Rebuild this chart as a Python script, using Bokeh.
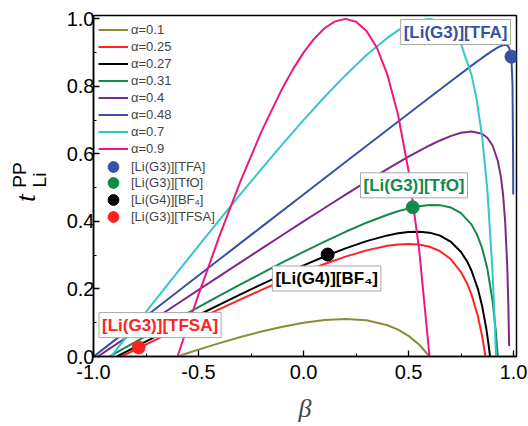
import math
from bokeh.plotting import figure
from bokeh.layouts import row
from bokeh.models import (Range1d, Label, Legend, LegendItem,
                          SingleIntervalTicker, PrintfTickFormatter)
from bokeh.embed import file_html
from bokeh.resources import INLINE

# ---- data ----
alpha_labels = ["α=0.1", "α=0.25", "α=0.27", "α=0.31", "α=0.4", "α=0.48", "α=0.7", "α=0.9"]

beta_a010 = [-0.6, -0.55, -0.5, -0.4, -0.3, -0.2, -0.1, 0.0, 0.1, 0.2, 0.3, 0.4, 0.45, 0.5, 0.55, 0.6]
t_a010 = [0, 0.0103, 0.0204, 0.0397, 0.0577, 0.0741, 0.0884, 0.1, 0.108, 0.1111, 0.1071, 0.0926, 0.0795, 0.0611, 0.0355, 0]

beta_a025 = [-0.866, -0.8, -0.7, -0.6, -0.5, -0.4, -0.3, -0.2, -0.1, 0.0, 0.1, 0.2, 0.3, 0.4, 0.45, 0.5, 0.55,
             0.6, 0.65, 0.7, 0.75, 0.78, 0.8, 0.83, 0.85, 0.86, 0.866]
t_a025 = [0, 0.0204, 0.051, 0.0813, 0.1111, 0.1405, 0.1692, 0.1972, 0.2242, 0.25, 0.2741, 0.2958, 0.3143, 0.3278,
          0.3318, 0.3333, 0.3315, 0.325, 0.3119, 0.2889, 0.25, 0.2145, 0.1833, 0.1198, 0.0611, 0.0248, 0]

beta_a027 = [-0.888, -0.8, -0.7, -0.6, -0.5, -0.4, -0.3, -0.2, -0.1, 0.0, 0.1, 0.2, 0.3, 0.4, 0.45, 0.5, 0.55,
             0.6, 0.65, 0.7, 0.75, 0.78, 0.8, 0.83, 0.85, 0.87, 0.88, 0.888]
t_a027 = [0, 0.0282, 0.0601, 0.0917, 0.1229, 0.1537, 0.184, 0.2136, 0.2423, 0.27, 0.2962, 0.3204, 0.3417, 0.3587,
          0.3648, 0.3688, 0.3698, 0.3668, 0.358, 0.3406, 0.3095, 0.2802, 0.2541, 0.2004, 0.1505, 0.083, 0.04, 0]

beta_a031 = [-0.925, -0.9, -0.8, -0.7, -0.6, -0.5, -0.4, -0.3, -0.2, -0.1, 0.0, 0.1, 0.2, 0.3, 0.4, 0.45, 0.5,
             0.55, 0.6, 0.65, 0.7, 0.75, 0.8, 0.825, 0.85, 0.875, 0.9, 0.915, 0.925]
t_a031 = [0, 0.0087, 0.0434, 0.0779, 0.1122, 0.1463, 0.18, 0.2134, 0.2463, 0.2785, 0.31, 0.3404, 0.3694, 0.3963,
          0.42, 0.4302, 0.4388, 0.4453, 0.4489, 0.4483, 0.4415, 0.4248, 0.3906, 0.3623, 0.3215, 0.2608, 0.1652,
          0.0783, 0]

beta_a040 = [-0.979, -0.9, -0.8, -0.7, -0.6, -0.5, -0.4, -0.3, -0.2, -0.1, 0.0, 0.1, 0.2, 0.3, 0.4, 0.5, 0.6,
             0.65, 0.7, 0.75, 0.8, 0.85, 0.875, 0.9, 0.925, 0.94, 0.95, 0.96, 0.97, 0.975, 0.979]
t_a040 = [0, 0.0329, 0.0741, 0.1152, 0.1563, 0.1972, 0.2381, 0.2788, 0.3194, 0.3598, 0.4, 0.4398, 0.4792, 0.5179,
          0.5556, 0.5917, 0.625, 0.6399, 0.6528, 0.6625, 0.6667, 0.6597, 0.6479, 0.625, 0.5799, 0.5306, 0.4792,
          0.4, 0.2653, 0.1563, 0.031]

beta_a048 = [-0.999, -0.9, -0.8, -0.6, -0.4, -0.2, 0.0, 0.2, 0.4, 0.6, 0.7, 0.8, 0.85, 0.9, 0.93, 0.95, 0.96,
             0.97, 0.98, 0.99, 0.995, 0.998, 0.9984]
t_a048 = [0, 0.0477, 0.0957, 0.1918, 0.2879, 0.384, 0.48, 0.576, 0.6718, 0.7673, 0.8147, 0.8615, 0.8843, 0.9058,
          0.9169, 0.9221, 0.9231, 0.9215, 0.9135, 0.8798, 0.8053, 0.576, 0.48]

beta_a070 = [-0.9165, -0.9, -0.8, -0.7, -0.6, -0.5, -0.4, -0.3, -0.2, -0.1, 0.0, 0.1, 0.2, 0.3, 0.4, 0.45, 0.5,
             0.55, 0.6, 0.65, 0.7, 0.75, 0.8, 0.825, 0.85, 0.875, 0.9, 0.91, 0.9165]
t_a070 = [0, 0.0132, 0.0926, 0.1716, 0.25, 0.3278, 0.4048, 0.4808, 0.5556, 0.6288, 0.7, 0.7685, 0.8333, 0.8929,
          0.9444, 0.9659, 0.9833, 0.9954, 1.0, 0.994, 0.9722, 0.925, 0.8333, 0.7589, 0.6528, 0.4958, 0.25,
          0.1102, 0]

beta_a090 = [-0.6, -0.55, -0.5, -0.4, -0.3, -0.2, -0.1, -0.05, 0.0, 0.05, 0.1, 0.15, 0.2, 0.25, 0.3, 0.35, 0.4,
             0.45, 0.5, 0.55, 0.6]
t_a090 = [0, 0.0927, 0.1833, 0.3571, 0.5192, 0.6667, 0.7955, 0.8512, 0.9, 0.9408, 0.9722, 0.9926, 1.0, 0.9917,
          0.9643, 0.9135, 0.8333, 0.7159, 0.55, 0.3194, 0]

salt_labels = ["[Li(G3)][TFA]", "[Li(G3)][TfO]", "[Li(G4)][BF₄]", "[Li(G3)][TFSA]"]
salt_beta = [0.99, 0.52, 0.115, -0.785]
salt_t = [0.888, 0.442, 0.302, 0.027]

# ---- styles ----
line_colors = ["#8C8C35", "#FF2222", "#000000", "#12894A", "#7B2A8C", "#3752A3", "#36C6C9", "#F0167F"]
salt_colors = ["#3752A3", "#12894A", "#000000", "#FF2222"]
SANS = "Liberation Sans"
SERIF = "Liberation Serif"

W_LEFT = 56
H = 426
TOP, BOTTOM = 15, 70   # borders of the main plot; the row aligns both frames to them

# narrow strip that carries the rotated y-axis title  t^PP_Li
# (its frame spans the same vertical extent as the main frame; y range = page pixels from the bottom)
pl = figure(width=W_LEFT, height=H, x_range=Range1d(0, W_LEFT), y_range=Range1d(BOTTOM, H - TOP),
            output_backend="svg", toolbar_location=None, x_axis_location=None, y_axis_location=None,
            min_border_left=0, min_border_right=0, min_border_top=TOP, min_border_bottom=BOTTOM)
pl.outline_line_color = None
pl.grid.visible = False
pl.add_layout(Label(x=24.5, y=228.5, text="t", angle=math.pi / 2,
                    text_align="center", text_baseline="middle", text_font=SERIF,
                    text_font_style="italic", text_font_size="28px", text_color="black"))
pl.add_layout(Label(x=19, y=251.5, text="PP", angle=math.pi / 2,
                    text_align="center", text_baseline="middle", text_font=SANS,
                    text_font_size="19px", text_color="black"))
pl.add_layout(Label(x=39, y=246.5, text="Li", angle=math.pi / 2,
                    text_align="center", text_baseline="middle", text_font=SANS,
                    text_font_size="19px", text_color="black"))

p = figure(width=528 - W_LEFT, height=H, x_range=Range1d(-1.0, 1.014), y_range=Range1d(0.0, 1.01),
           output_backend="svg", toolbar_location=None,
           min_border_left=93 - W_LEFT, min_border_right=12, min_border_top=TOP, min_border_bottom=BOTTOM)
p.xgrid.visible = False
p.ygrid.visible = False
p.outline_line_color = "black"
p.outline_line_width = 1.5
p.outline_line_alpha = 1.0

for ax in (p.xaxis[0], p.yaxis[0]):
    ax.axis_line_width = 1.5
    ax.major_tick_in = 6
    ax.major_tick_out = 0
    ax.minor_tick_in = 3
    ax.minor_tick_out = 0
    ax.major_tick_line_width = 1.3
    ax.minor_tick_line_width = 1.0
    ax.major_label_text_font = SANS
    ax.major_label_text_font_size = "20px"
    ax.major_label_text_color = "black"
    ax.formatter = PrintfTickFormatter(format="%.1f")

p.xaxis.major_label_standoff = 8
p.yaxis.major_label_standoff = -1
p.xaxis.ticker = SingleIntervalTicker(interval=0.5, num_minor_ticks=2)
p.yaxis.ticker = SingleIntervalTicker(interval=0.2, num_minor_ticks=2)
p.xaxis.axis_label = "β"
p.xaxis.axis_label_text_font = SERIF
p.xaxis.axis_label_text_font_style = "italic"
p.xaxis.axis_label_text_font_size = "26px"
p.xaxis.axis_label_standoff = 12

series = [(beta_a010, t_a010), (beta_a025, t_a025), (beta_a027, t_a027), (beta_a031, t_a031),
          (beta_a040, t_a040), (beta_a048, t_a048), (beta_a070, t_a070), (beta_a090, t_a090)]
line_items = []
for (bx, ty), col, lab in zip(series, line_colors, alpha_labels):
    r = p.line(bx, ty, line_color=col, line_width=2, line_join="round")
    line_items.append(LegendItem(label=lab, renderers=[r]))

leg1 = Legend(items=line_items, location=(5, 199.5), margin=0, padding=0, spacing=0,
              glyph_width=30, glyph_height=17, label_height=17, label_standoff=3,
              label_text_font=SANS, label_text_font_size="13px",
              background_fill_alpha=0, border_line_color=None)
p.add_layout(leg1)

# one small legend per salt so that the circles can be large while rows stay close
salt_leg_bottom = [176.5, 160.5, 143.5, 126.5]
for i in range(len(salt_labels)):
    r = p.scatter([salt_beta[i]], [salt_t[i]], size=13, marker="circle",
                  fill_color=salt_colors[i], line_color=salt_colors[i])
    lg = Legend(items=[LegendItem(label=salt_labels[i], renderers=[r])],
                location=(5, salt_leg_bottom[i]), margin=0, padding=0, spacing=0,
                glyph_width=30, glyph_height=27, label_height=17, label_standoff=3,
                label_text_font=SANS, label_text_font_size="13px",
                background_fill_alpha=0, border_line_color=None)
    p.add_layout(lg)

# annotation boxes
box_pos = [(0.724, 0.961), (0.526, 0.507), (0.110, 0.231), (-0.683, 0.093)]
for (bx, by), txt, col in zip(box_pos, salt_labels, salt_colors):
    p.add_layout(Label(x=bx, y=by, text=txt, text_align="center", text_baseline="middle",
                       text_font=SANS, text_font_style="bold", text_font_size="17px",
                       text_color=col, background_fill_color="white",
                       border_line_color="#A8A8A8", border_line_width=1, padding=3))

layout = row(pl, p)
open("out.html", "w").write(file_html(layout, INLINE))
